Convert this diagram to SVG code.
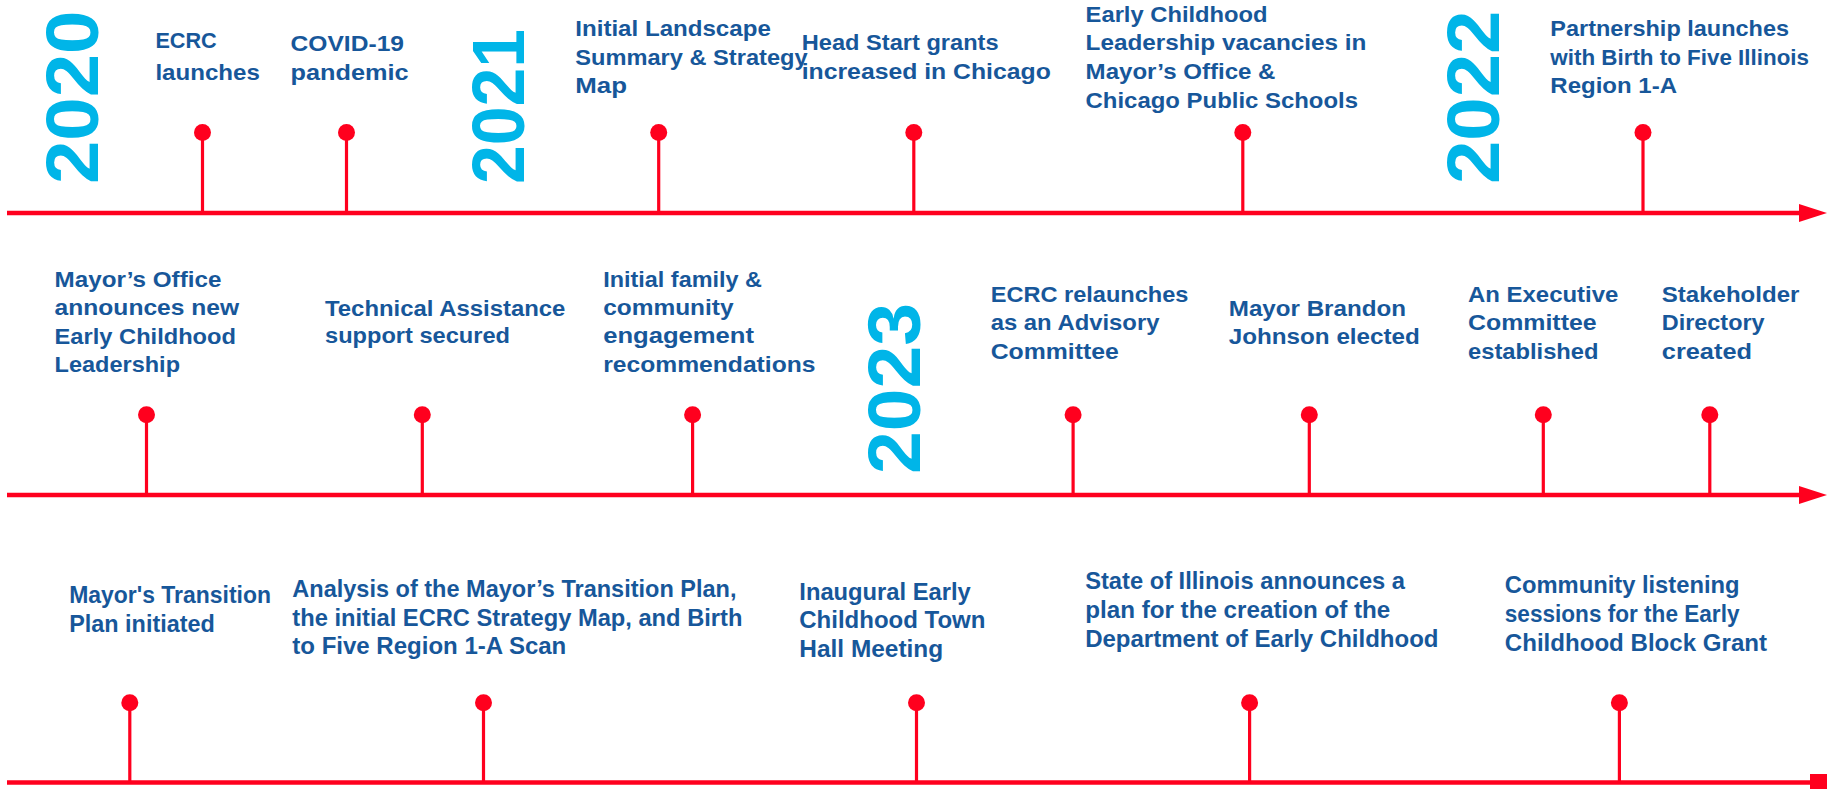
<svg xmlns="http://www.w3.org/2000/svg" width="1835" height="789" viewBox="0 0 1835 789">
<style>
.t{font-family:"Liberation Sans",Arial,sans-serif;font-weight:bold;font-size:22px;fill:#17579A}
.b{font-size:24px}
.yr{font-family:"Liberation Sans",Arial,sans-serif;font-weight:bold;font-size:74px;fill:#00B5E8}
.ln{stroke:#FF001E;stroke-width:4.5;fill:none}
.st{stroke:#FF001E;stroke-width:3.2;fill:none}
.dot{fill:#FF001E}
.ah{fill:#FF001E}
</style>
<rect width="1835" height="789" fill="#FFFFFF"/>
<g id="connectors">
<line class="ln" x1="7" y1="213" x2="1802" y2="213"/>
<polygon class="ah" points="1799,204 1827,213 1799,222"/>
<line class="ln" x1="7" y1="495" x2="1802" y2="495"/>
<polygon class="ah" points="1799,486 1827,495 1799,504"/>
<line class="ln" x1="7" y1="782.5" x2="1812" y2="782.5"/>
<rect class="ah" x="1810" y="774" width="17" height="15"/>
</g>
<g id="years">
<text id="y2020" class="yr" transform="translate(97.5,184) rotate(-90)" textLength="173.5" lengthAdjust="spacingAndGlyphs">2020</text>
<text id="y2021" class="yr" transform="translate(524,184) rotate(-90)" textLength="155" lengthAdjust="spacingAndGlyphs">2021</text>
<text id="y2022" class="yr" transform="translate(1499,184) rotate(-90)" textLength="173.5" lengthAdjust="spacingAndGlyphs">2022</text>
<text id="y2023" class="yr" transform="translate(920,474) rotate(-90)" textLength="171" lengthAdjust="spacingAndGlyphs">2023</text>
</g>
<!-- Row 1 -->
<g id="n-ecrc-launches">
<line class="st" x1="202.5" y1="132.5" x2="202.5" y2="213"/><circle class="dot" cx="202.5" cy="132.5" r="8.5"/>
<text class="t" x="155.4" y="48" textLength="61.3" lengthAdjust="spacingAndGlyphs">ECRC</text>
<text class="t" x="155.4" y="80" textLength="104.4" lengthAdjust="spacingAndGlyphs">launches</text>
</g>
<g id="n-covid">
<line class="st" x1="346.5" y1="132.5" x2="346.5" y2="213"/><circle class="dot" cx="346.5" cy="132.5" r="8.5"/>
<text class="t" x="290.6" y="51" textLength="113.4" lengthAdjust="spacingAndGlyphs">COVID-19</text>
<text class="t" x="290.6" y="80" textLength="117.9" lengthAdjust="spacingAndGlyphs">pandemic</text>
</g>
<g id="n-landscape">
<line class="st" x1="658.7" y1="132.5" x2="658.7" y2="213"/><circle class="dot" cx="658.7" cy="132.5" r="8.5"/>
<text class="t" x="575.3" y="36" textLength="195.5" lengthAdjust="spacingAndGlyphs">Initial Landscape</text>
<text class="t" x="575.3" y="65" textLength="232.3" lengthAdjust="spacingAndGlyphs">Summary &amp; Strategy</text>
<text class="t" x="575.3" y="93" textLength="51.7" lengthAdjust="spacingAndGlyphs">Map</text>
</g>
<g id="n-headstart">
<line class="st" x1="913.8" y1="132.5" x2="913.8" y2="213"/><circle class="dot" cx="913.8" cy="132.5" r="8.5"/>
<text class="t" x="801.7" y="50" textLength="196.9" lengthAdjust="spacingAndGlyphs">Head Start grants</text>
<text class="t" x="801.7" y="79.3" textLength="249.1" lengthAdjust="spacingAndGlyphs">increased in Chicago</text>
</g>
<g id="n-vacancies">
<line class="st" x1="1242.8" y1="132.5" x2="1242.8" y2="213"/><circle class="dot" cx="1242.8" cy="132.5" r="8.5"/>
<text class="t" x="1085.6" y="21.7" textLength="182" lengthAdjust="spacingAndGlyphs">Early Childhood</text>
<text class="t" x="1085.6" y="50" textLength="280.8" lengthAdjust="spacingAndGlyphs">Leadership vacancies in</text>
<text class="t" x="1085.6" y="79" textLength="189.9" lengthAdjust="spacingAndGlyphs">Mayor’s Office &amp;</text>
<text class="t" x="1085.6" y="108" textLength="272.4" lengthAdjust="spacingAndGlyphs">Chicago Public Schools</text>
</g>
<g id="n-partnership">
<line class="st" x1="1643" y1="132.5" x2="1643" y2="213"/><circle class="dot" cx="1643" cy="132.5" r="8.5"/>
<text class="t" x="1550.3" y="36" textLength="238.7" lengthAdjust="spacingAndGlyphs">Partnership launches</text>
<text class="t" x="1550.3" y="65" textLength="258.7" lengthAdjust="spacingAndGlyphs">with Birth to Five Illinois</text>
<text class="t" x="1550.3" y="93" textLength="126.7" lengthAdjust="spacingAndGlyphs">Region 1-A</text>
</g>
<!-- Row 2 -->
<g id="n-mayors-office">
<line class="st" x1="146.5" y1="414.7" x2="146.5" y2="495"/><circle class="dot" cx="146.5" cy="414.7" r="8.5"/>
<text class="t" x="54.6" y="287.3" textLength="166.8" lengthAdjust="spacingAndGlyphs">Mayor’s Office</text>
<text class="t" x="54.6" y="315" textLength="184.6" lengthAdjust="spacingAndGlyphs">announces new</text>
<text class="t" x="54.6" y="344" textLength="181.4" lengthAdjust="spacingAndGlyphs">Early Childhood</text>
<text class="t" x="54.6" y="371.7" textLength="125.4" lengthAdjust="spacingAndGlyphs">Leadership</text>
</g>
<g id="n-technical">
<line class="st" x1="422.3" y1="414.7" x2="422.3" y2="495"/><circle class="dot" cx="422.3" cy="414.7" r="8.5"/>
<text class="t" x="325" y="316" textLength="240.4" lengthAdjust="spacingAndGlyphs">Technical Assistance</text>
<text class="t" x="325" y="343.3" textLength="185" lengthAdjust="spacingAndGlyphs">support secured</text>
</g>
<g id="n-family">
<line class="st" x1="692.6" y1="414.7" x2="692.6" y2="495"/><circle class="dot" cx="692.6" cy="414.7" r="8.5"/>
<text class="t" x="603.2" y="287.3" textLength="158.8" lengthAdjust="spacingAndGlyphs">Initial family &amp;</text>
<text class="t" x="603.2" y="315" textLength="130.4" lengthAdjust="spacingAndGlyphs">community</text>
<text class="t" x="603.2" y="342.7" textLength="150.8" lengthAdjust="spacingAndGlyphs">engagement</text>
<text class="t" x="603.2" y="371.7" textLength="212.3" lengthAdjust="spacingAndGlyphs">recommendations</text>
</g>
<g id="n-relaunch">
<line class="st" x1="1073.1" y1="414.7" x2="1073.1" y2="495"/><circle class="dot" cx="1073.1" cy="414.7" r="8.5"/>
<text class="t" x="990.7" y="301.7" textLength="197.7" lengthAdjust="spacingAndGlyphs">ECRC relaunches</text>
<text class="t" x="990.7" y="330" textLength="168.8" lengthAdjust="spacingAndGlyphs">as an Advisory</text>
<text class="t" x="990.7" y="359" textLength="128.1" lengthAdjust="spacingAndGlyphs">Committee</text>
</g>
<g id="n-johnson">
<line class="st" x1="1309.3" y1="414.7" x2="1309.3" y2="495"/><circle class="dot" cx="1309.3" cy="414.7" r="8.5"/>
<text class="t" x="1228.8" y="316" textLength="177.2" lengthAdjust="spacingAndGlyphs">Mayor Brandon</text>
<text class="t" x="1228.8" y="344" textLength="191" lengthAdjust="spacingAndGlyphs">Johnson elected</text>
</g>
<g id="n-executive">
<line class="st" x1="1543.3" y1="414.7" x2="1543.3" y2="495"/><circle class="dot" cx="1543.3" cy="414.7" r="8.5"/>
<text class="t" x="1468" y="301.7" textLength="150.3" lengthAdjust="spacingAndGlyphs">An Executive</text>
<text class="t" x="1468" y="330" textLength="128.6" lengthAdjust="spacingAndGlyphs">Committee</text>
<text class="t" x="1468" y="359" textLength="130.5" lengthAdjust="spacingAndGlyphs">established</text>
</g>
<g id="n-directory">
<line class="st" x1="1709.8" y1="414.7" x2="1709.8" y2="495"/><circle class="dot" cx="1709.8" cy="414.7" r="8.5"/>
<text class="t" x="1661.8" y="301.7" textLength="137.6" lengthAdjust="spacingAndGlyphs">Stakeholder</text>
<text class="t" x="1661.8" y="330" textLength="102.8" lengthAdjust="spacingAndGlyphs">Directory</text>
<text class="t" x="1661.8" y="359" textLength="90.2" lengthAdjust="spacingAndGlyphs">created</text>
</g>
<!-- Row 3 -->
<g id="n-transition">
<line class="st" x1="129.8" y1="702.7" x2="129.8" y2="782.5"/><circle class="dot" cx="129.8" cy="702.7" r="8.5"/>
<text class="t b" x="69.2" y="603.3" textLength="201.8" lengthAdjust="spacingAndGlyphs">Mayor's Transition</text>
<text class="t b" x="69.2" y="631.7" textLength="145.6" lengthAdjust="spacingAndGlyphs">Plan initiated</text>
</g>
<g id="n-analysis">
<line class="st" x1="483.5" y1="702.7" x2="483.5" y2="782.5"/><circle class="dot" cx="483.5" cy="702.7" r="8.5"/>
<text class="t b" x="292.3" y="596.7" textLength="444.2" lengthAdjust="spacingAndGlyphs">Analysis of the Mayor’s Transition Plan,</text>
<text class="t b" x="292.3" y="626" textLength="450.1" lengthAdjust="spacingAndGlyphs">the initial ECRC Strategy Map, and Birth</text>
<text class="t b" x="292.3" y="654" textLength="274" lengthAdjust="spacingAndGlyphs">to Five Region 1-A Scan</text>
</g>
<g id="n-townhall">
<line class="st" x1="916.5" y1="702.7" x2="916.5" y2="782.5"/><circle class="dot" cx="916.5" cy="702.7" r="8.5"/>
<text class="t b" x="799.3" y="600" textLength="171.5" lengthAdjust="spacingAndGlyphs">Inaugural Early</text>
<text class="t b" x="799.3" y="628.3" textLength="186.1" lengthAdjust="spacingAndGlyphs">Childhood Town</text>
<text class="t b" x="799.3" y="657.3" textLength="143.9" lengthAdjust="spacingAndGlyphs">Hall Meeting</text>
</g>
<g id="n-department">
<line class="st" x1="1249.6" y1="702.7" x2="1249.6" y2="782.5"/><circle class="dot" cx="1249.6" cy="702.7" r="8.5"/>
<text class="t b" x="1085.2" y="589.3" textLength="319.8" lengthAdjust="spacingAndGlyphs">State of Illinois announces a</text>
<text class="t b" x="1085.2" y="618.3" textLength="305.1" lengthAdjust="spacingAndGlyphs">plan for the creation of the</text>
<text class="t b" x="1085.2" y="646.7" textLength="353.3" lengthAdjust="spacingAndGlyphs">Department of Early Childhood</text>
</g>
<g id="n-listening">
<line class="st" x1="1619.4" y1="702.7" x2="1619.4" y2="782.5"/><circle class="dot" cx="1619.4" cy="702.7" r="8.5"/>
<text class="t b" x="1504.8" y="592.7" textLength="234.7" lengthAdjust="spacingAndGlyphs">Community listening</text>
<text class="t b" x="1504.8" y="621.7" textLength="234.7" lengthAdjust="spacingAndGlyphs">sessions for the Early</text>
<text class="t b" x="1504.8" y="650.7" textLength="262.2" lengthAdjust="spacingAndGlyphs">Childhood Block Grant</text>
</g>
</svg>
